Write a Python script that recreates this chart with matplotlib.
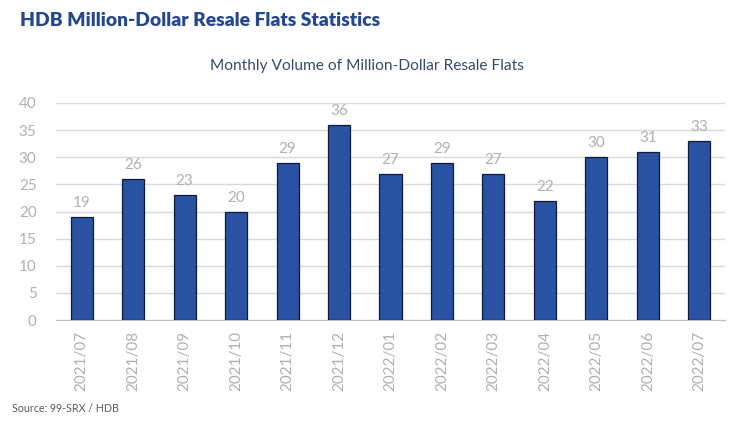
import matplotlib.pyplot as plt

# DATA -----------------------------------------------------------------------------------------------------------------
months = ['2021/07', '2021/08', '2021/09', '2021/10', '2021/11', '2021/12', '2022/01',
          '2022/02', '2022/03', '2022/04', '2022/05', '2022/06', '2022/07']
volumes = [19, 26, 23, 20, 29, 36, 27, 29, 27, 22, 30, 31, 33]
y_ticks = [0, 5, 10, 15, 20, 25, 30, 35, 40]

plt.rcParams['font.family'] = ['Lato', 'DejaVu Sans']

fig = plt.figure(figsize=(7.5, 4.23), dpi=100)
ax = fig.add_axes([56 / 750, 1 - 320 / 423, 669 / 750, 217 / 423])

x = list(range(len(months)))
bars = ax.bar(x, volumes, width=0.43, color='#2a52a3', edgecolor='#0d1a3a', linewidth=0.9, zorder=3)

# value labels
for xi, v in zip(x, volumes):
    ax.annotate(str(v), (xi, v), xytext=(0, 5), textcoords='offset points',
                ha='center', va='bottom', fontsize=11, color='#b0b0b0')

ax.set_xlim(-0.5, len(months) - 0.5)
ax.set_ylim(0, 40)
ax.set_yticks(y_ticks)
ax.yaxis.grid(True, color='#d9d9d9', linewidth=1, zorder=0)
ax.set_axisbelow(True)
ax.set_xticks(x)
ax.set_xticklabels(months, rotation=90)
ax.tick_params(axis='both', length=0, colors='#b0b0b0', labelsize=11)
ax.tick_params(axis='x', pad=8)
ax.tick_params(axis='y', pad=14)
for side in ['top', 'right', 'left']:
    ax.spines[side].set_visible(False)
ax.spines['bottom'].set_color('#bfbfbf')

# titles
fig.text(20 / 750, 1 - 20 / 423, 'HDB Million-Dollar Resale Flats Statistics', fontsize=13.9,
         fontweight='heavy', color='#24478f', ha='left', va='center')
fig.text(367 / 750, 1 - 66 / 423, 'Monthly Volume of Million-Dollar Resale Flats', fontsize=11.2,
         color='#3b4a6b', ha='center', va='center')
fig.text(12 / 750, 1 - 408 / 423, 'Source: 99-SRX / HDB', fontsize=7.7, color='#595959',
         ha='left', va='center')

plt.savefig('out.png', dpi=100)
